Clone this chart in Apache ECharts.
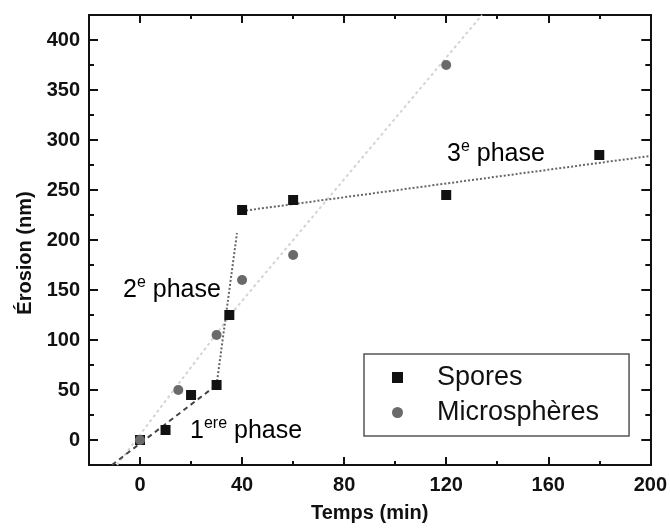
<!DOCTYPE html>
<html>
<head>
<meta charset="utf-8">
<script src="https://cdn.jsdelivr.net/npm/echarts@6/dist/echarts.min.js"></script>
<style>
  html, body { margin: 0; padding: 0; background: #fff; }
  #chart { width: 670px; height: 529px; }
</style>
</head>
<body>
<div id="chart"></div>
<script>
// points
const sporesTime = [0, 10, 20, 30, 35, 40, 60, 120, 180];
const sporesErosion = [0, 10, 45, 55, 125, 230, 240, 245, 285];
const microTime = [0, 15, 30, 40, 60, 120];
const microErosion = [0, 50, 105, 160, 185, 375];

// droites d'ajustement (extrémités)
const phase1Line = [[-11, -25], [30, 55]];
const phase2Line = [[30, 55], [38, 207]];
const phase3Line = [[40, 229], [200, 284]];
const microLineA = [[-9, -25], [37, 130]];
const microLineB = [[37, 130], [134, 425]];

// graduations
const xMajor = [0, 40, 80, 120, 160, 200];
const xMinor = [20, 60, 100, 140, 180];
const yMajor = [0, 50, 100, 150, 200, 250, 300, 350, 400];
const yMinor = [25, 75, 125, 175, 225, 275, 325, 375];

const FONT = "'Liberation Sans', Arial, sans-serif";
const chart = echarts.init(document.getElementById('chart'));

function pairs(xs, ys) {
    return xs.map((x, i) => [x, ys[i]]);
}

// axe générique (ticks vers l'intérieur)
function axis(position, ticks, len, opts) {
    return Object.assign({
        type: 'value',
        position: position,
        axisLine: { show: true, onZero: false, lineStyle: { color: '#111', width: 2 } },
        axisTick: { show: true, inside: true, length: len, customValues: ticks, lineStyle: { color: '#111', width: 2 } },
        axisLabel: { show: false },
        splitLine: { show: false }
    }, opts);
}

const labelStyle = { fontFamily: FONT, fontSize: 20, fontWeight: 'bold', color: '#111' };

const xRange = { min: -20, max: 200 };
const yRange = { min: -25, max: 425 };

const xAxes = [
    axis('bottom', xMajor, 8, Object.assign({}, xRange, {
        axisLabel: Object.assign({ show: true, margin: 10, customValues: xMajor }, labelStyle),
        name: 'Temps (min)',
        nameLocation: 'middle',
        nameGap: 38,
        nameTextStyle: labelStyle
    })),
    axis('bottom', xMinor, 4, Object.assign({}, xRange)),
    axis('top', xMajor, 8, Object.assign({}, xRange)),
    axis('top', xMinor, 4, Object.assign({}, xRange))
];

const yAxes = [
    axis('left', yMajor, 9, Object.assign({}, yRange, {
        axisLabel: Object.assign({ show: true, margin: 9, customValues: yMajor }, labelStyle),
        name: 'Érosion (nm)',
        nameLocation: 'middle',
        nameRotate: 90,
        nameGap: 50,
        nameTextStyle: Object.assign({ padding: [0, 26, 0, 0] }, labelStyle)
    })),
    axis('left', yMinor, 5, Object.assign({}, yRange)),
    axis('right', yMajor, 9, Object.assign({}, yRange)),
    axis('right', yMinor, 5, Object.assign({}, yRange))
];

function fitLine(data, color, type) {
    return {
        type: 'line',
        data: data,
        symbol: 'none',
        silent: true,
        z: 1,
        lineStyle: { color: color, width: 2, type: type }
    };
}

const richText = {
    n: { fontFamily: FONT, fontSize: 25, color: '#111', lineHeight: 30 },
    s: { fontFamily: FONT, fontSize: 16, color: '#111', verticalAlign: 'top', lineHeight: 30 }
};

function note(x, y, text) {
    return {
        type: 'text',
        x: x,
        y: y,
        z: 10,
        style: { text: text, rich: richText, verticalAlign: 'middle', align: 'left' }
    };
}

chart.setOption({
    animation: false,
    backgroundColor: '#fff',
    grid: { left: 89, right: 18, top: 15, bottom: 64, containLabel: false },
    xAxis: xAxes,
    yAxis: yAxes,
    legend: {
        left: 364,
        top: 354,
        orient: 'vertical',
        padding: [10, 30, 10, 28],
        itemGap: 8,
        itemWidth: 11,
        itemHeight: 11,
        borderColor: '#555',
        borderWidth: 1.5,
        textStyle: { fontFamily: FONT, fontSize: 27, color: '#111', padding: [0, 0, 0, 29] },
        data: [
            { name: 'Spores', icon: 'rect' },
            { name: 'Microsphères', icon: 'circle' }
        ]
    },
    graphic: [
        note(123, 290, '{n|2}{s|e}{n| phase}'),
        note(447, 154, '{n|3}{s|e}{n| phase}'),
        note(190, 431, '{n|1}{s|ere}{n| phase}')
    ],
    series: [
        fitLine(microLineA, '#d4d4d4', [3, 3]),
        fitLine(microLineB, '#d4d4d4', [3, 3]),
        fitLine(phase1Line, '#444', [5, 4]),
        fitLine(phase2Line, '#666', [2, 2]),
        fitLine(phase3Line, '#666', [2, 2]),
        {
            name: 'Spores',
            type: 'scatter',
            symbol: 'rect',
            symbolSize: 10,
            z: 3,
            itemStyle: { color: '#111', opacity: 1 },
            data: pairs(sporesTime, sporesErosion)
        },
        {
            name: 'Microsphères',
            type: 'scatter',
            symbol: 'circle',
            symbolSize: 10,
            z: 4,
            itemStyle: { color: '#6a6a6a', opacity: 1 },
            data: pairs(microTime, microErosion)
        }
    ]
});

window.addEventListener('resize', () => chart.resize());
</script>
</body>
</html>
